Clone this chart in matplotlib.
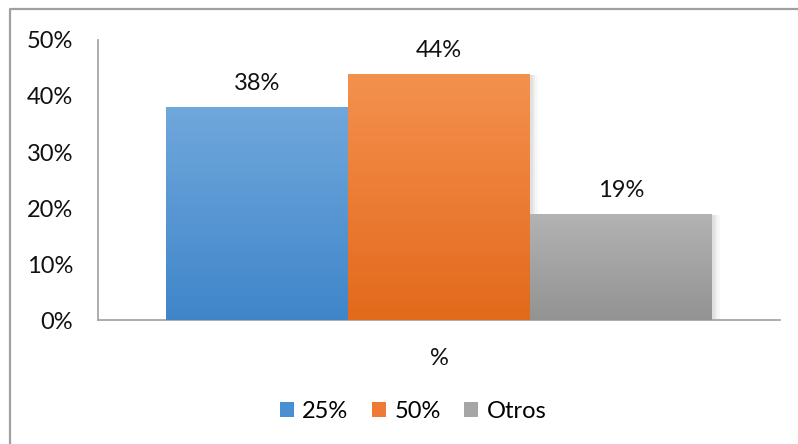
import numpy as np
import matplotlib
matplotlib.use("Agg")
import matplotlib.pyplot as plt
from matplotlib.colors import LinearSegmentedColormap
from matplotlib.lines import Line2D
from matplotlib.patches import Rectangle

plt.rcParams['font.family'] = ['Lato', 'DejaVu Sans']

# Data
category = "%"
series = ["25%", "50%", "Otros"]
values = [0.38, 0.44, 0.19]
y_ticks = [0.0, 0.1, 0.2, 0.3, 0.4, 0.5]
y_tick_labels = ["0%", "10%", "20%", "30%", "40%", "50%"]

# Gradient colours (top, bottom) per series
grad_colors = [("#70a7dc", "#3f86c9"), ("#f4914f", "#e3691b"), ("#b3b3b3", "#939393")]
legend_colors = ["#4a8fd2", "#ee7a35", "#a6a6a6"]

FS = 17
TXT = "#111111"

fig = plt.figure(figsize=(7.98, 4.44), dpi=100)
fig.patch.set_facecolor("white")

# Chart-area frame (top and left edges)
fig.add_artist(Line2D([10 / 798, 10 / 798, 1.0], [0.0, 1 - 9 / 444, 1 - 9 / 444],
                      transform=fig.transFigure, color="#a0a0a0", lw=1.6))

ax = fig.add_axes([98 / 798, 124 / 444, 682 / 798, 280 / 444])
ax.set_xlim(-0.5, 0.5)
ax.set_ylim(0, 0.5)

width = 182 / 682
offsets = [-width, 0.0, width]

for i, (name, v) in enumerate(zip(series, values)):
    x0 = offsets[i] - width / 2
    # soft shadow
    for k, a in enumerate([0.05, 0.04, 0.03]):
        d = (k + 1) * 0.0025
        ax.add_patch(Rectangle((x0 + d * 0.6, -0.002), width + d, v - 0.001,
                               facecolor="black", alpha=a, edgecolor="none", zorder=1))
    bar = ax.bar(offsets[i], v, width=width, color="none", edgecolor="none", zorder=2)[0]
    cmap = LinearSegmentedColormap.from_list(name, [grad_colors[i][1], grad_colors[i][0]])
    grad = np.linspace(0, 1, 256).reshape(-1, 1)
    im = ax.imshow(grad, cmap=cmap, origin="lower", aspect="auto",
                   extent=[x0, x0 + width, 0, v], zorder=3)
    im.set_clip_path(bar)
    ax.text(offsets[i], v + 0.023, f"{round(v * 100):d}%", ha="center", va="bottom",
            fontsize=FS, color=TXT, zorder=4)

ax.set_xlim(-0.5, 0.5)
ax.set_ylim(0, 0.5)
ax.set_yticks(y_ticks)
ax.set_yticklabels(y_tick_labels, fontsize=FS, color=TXT)
ax.tick_params(axis="y", length=0, pad=18)
ax.set_xticks([0])
ax.set_xticklabels([category], fontsize=FS, color=TXT)
ax.tick_params(axis="x", length=0, pad=20)

for s in ["top", "right"]:
    ax.spines[s].set_visible(False)
ax.spines["left"].set_color("#a6a6a6")
ax.spines["bottom"].set_color("#a6a6a6")
ax.spines["left"].set_linewidth(1.3)
ax.spines["bottom"].set_linewidth(1.3)

handles = [Rectangle((0, 0), 1, 1, facecolor=c, edgecolor="none") for c in legend_colors]
fig.legend(handles, series, loc="center", bbox_to_anchor=(413 / 798, 1 - 411 / 444),
           ncol=3, frameon=False, fontsize=FS, handlelength=0.6, handleheight=0.6,
           handletextpad=0.35, columnspacing=1.0)

fig.savefig("out.png", dpi=100, facecolor="white")
